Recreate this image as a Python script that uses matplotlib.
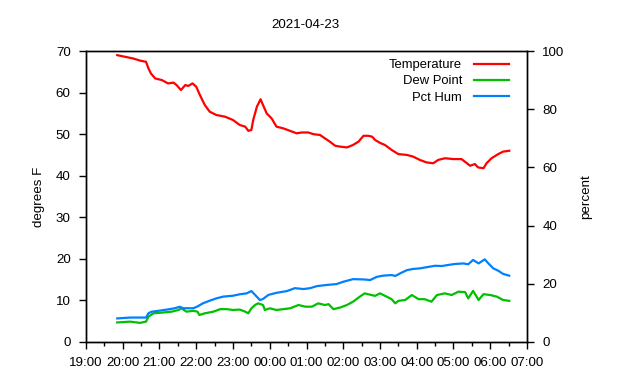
import matplotlib
matplotlib.use("Agg")
import matplotlib.pyplot as plt
import matplotlib.dates as mdates
import pandas as pd

plt.rcParams['font.family'] = ['Liberation Sans', 'DejaVu Sans']

title = "2021-04-23"
base_day = "2021-04-22"

temp_times = ["19:51","20:04","20:17","20:28","20:38","20:42","20:46","20:53",
              "21:04","21:14","21:23","21:28","21:35","21:42","21:47","21:54",
              "22:00","22:06","22:14","22:22","22:33","22:47",
              "23:00","23:11","23:20","23:25","23:30","23:33","23:39","23:45","23:49","23:55",
              "00:03","00:11","00:22","00:33","00:44","00:52",
              "01:03","01:11","01:22","01:30","01:38","01:47","01:55",
              "02:06","02:16","02:25","02:33","02:41","02:47","02:52",
              "03:00","03:08","03:19","03:30","03:44","03:54",
              "04:05","04:16","04:27","04:35","04:46",
              "05:00","05:13","05:22","05:27","05:35","05:40","05:49","05:54",
              "06:02","06:13","06:21","06:31"]
temp_vals = [69.0,68.6,68.2,67.7,67.4,65.8,64.6,63.4,
             63.0,62.2,62.4,61.8,60.6,61.8,61.6,62.2,
             61.4,59.4,57.0,55.4,54.6,54.2,
             53.4,52.2,51.8,50.8,51.0,53.4,56.6,58.4,57.0,55.0,
             53.8,51.8,51.4,50.8,50.2,50.4,
             50.4,50.0,49.8,49.0,48.2,47.2,47.0,
             46.8,47.4,48.2,49.6,49.6,49.4,48.6,
             47.9,47.4,46.2,45.2,45.0,44.6,
             43.8,43.2,43.0,43.8,44.2,
             44.0,44.0,43.0,42.4,42.8,42.0,41.8,43.0,
             44.2,45.2,45.8,46.0]

dew_times = ["19:51","20:12","20:28","20:38","20:42","20:50","21:06","21:20","21:31","21:36",
             "21:44","21:55","22:02","22:05","22:14","22:28","22:39","22:50","23:00","23:11",
             "23:20","23:25","23:30","23:36","23:41","23:49","23:52","00:00","00:11","00:22",
             "00:33","00:47","00:58","01:09","01:19","01:30","01:36","01:44","01:55","02:06",
             "02:16","02:27","02:35","02:46","02:52","03:00","03:11","03:19","03:25","03:30",
             "03:41","03:52","04:03","04:13","04:24","04:33","04:46","04:57","05:08","05:19",
             "05:24","05:32","05:41","05:49","06:00","06:11","06:21","06:31"]
dew_vals = [4.7,4.9,4.6,4.9,6.1,6.9,7.1,7.3,7.7,8.1,
            7.3,7.5,7.3,6.5,6.9,7.3,7.9,7.9,7.7,7.8,
            7.3,6.9,8.1,8.9,9.3,8.9,7.7,8.1,7.7,7.9,
            8.1,8.9,8.5,8.5,9.3,8.9,9.1,7.9,8.3,8.9,
            9.7,10.9,11.7,11.3,11.1,11.7,10.9,10.3,9.3,9.9,
            10.1,11.3,10.3,10.3,9.7,11.3,11.7,11.3,12.1,12.0,
            10.5,12.3,10.1,11.5,11.3,10.9,10.1,9.9]

hum_times = ["19:51","20:12","20:38","20:42","20:47","21:01","21:14","21:25","21:33","21:39",
             "21:55","22:01","22:11","22:22","22:33","22:44","23:00","23:11","23:22","23:30",
             "23:36","23:44","23:49","23:58","00:11","00:28","00:41","00:55","01:06","01:17",
             "01:33","01:49","02:00","02:16","02:33","02:44","02:55","03:05","03:19","03:25",
             "03:33","03:44","03:54","04:05","04:16","04:30","04:41","04:52","05:02","05:16",
             "05:24","05:32","05:41","05:51","05:57","06:05","06:13","06:21","06:31"]
hum_vals = [8.1,8.4,8.4,9.9,10.4,10.8,11.2,11.6,12.1,11.6,
            11.6,12.1,13.3,14.2,15.0,15.6,15.9,16.4,16.7,17.5,
            16.2,14.4,14.8,16.2,16.9,17.5,18.5,18.2,18.5,19.2,
            19.6,19.9,20.7,21.6,21.5,21.3,22.4,22.8,23.0,22.7,
            23.6,24.7,25.1,25.3,25.7,26.2,26.1,26.5,26.8,27.0,
            26.7,28.2,27.0,28.4,27.0,25.3,24.5,23.4,22.8]

x_ticks = ["19:00","20:00","21:00","22:00","23:00","00:00","01:00",
           "02:00","03:00","04:00","05:00","06:00","07:00"]


def to_dt(times):
    out = []
    for t in times:
        h = int(t[:2])
        d = pd.Timestamp(base_day + " " + t)
        if h < 12:
            d = d + pd.Timedelta(days=1)
        out.append(d)
    return out


fig = plt.figure(figsize=(6.4, 3.8), dpi=100)
ax = fig.add_axes([86/640, 1-342/380, (527-86)/640, (342-51)/380])
ax2 = ax.twinx()

fs = 9.6
l1, = ax.plot(to_dt(temp_times), temp_vals, color="#ff0000", lw=1.6, label="Temperature")
l2, = ax.plot(to_dt(dew_times), dew_vals, color="#00c000", lw=1.6, label="Dew Point")
l3, = ax2.plot(to_dt(hum_times), hum_vals, color="#0080ff", lw=1.6, label="Pct Hum")

xt = to_dt(x_ticks)
ax.set_xlim(xt[0], xt[-1])
ax.set_xticks(xt)
ax.set_xticklabels(x_ticks)
ax.xaxis.set_minor_locator(mdates.MinuteLocator(byminute=[30]))
ax.set_ylim(0, 70)
ax.set_yticks(range(0, 71, 10))
ax2.set_ylim(0, 100)
ax2.set_yticks(range(0, 101, 20))

for a in (ax, ax2):
    a.tick_params(axis='both', which='major', direction='out', length=5, width=1,
                  labelsize=fs, colors='black', pad=6)
    a.tick_params(axis='x', which='minor', direction='out', length=3, width=1)
    for s in a.spines.values():
        s.set_linewidth(1.0)

ax.set_ylabel("degrees F", fontsize=fs, labelpad=7.5)
ax2.set_ylabel("percent", fontsize=fs, labelpad=11.5)

fig.text(306/640, 1-25/380, title, ha='center', va='center', fontsize=fs)

leg = ax.legend(handles=[l1, l2, l3], loc='upper right', frameon=False,
                markerfirst=False, fontsize=9.4, handlelength=2.7,
                handletextpad=0.9, labelspacing=0.32,
                bbox_to_anchor=(0.98, 1.004), borderaxespad=0.3)

fig.savefig("out.png", dpi=100)
